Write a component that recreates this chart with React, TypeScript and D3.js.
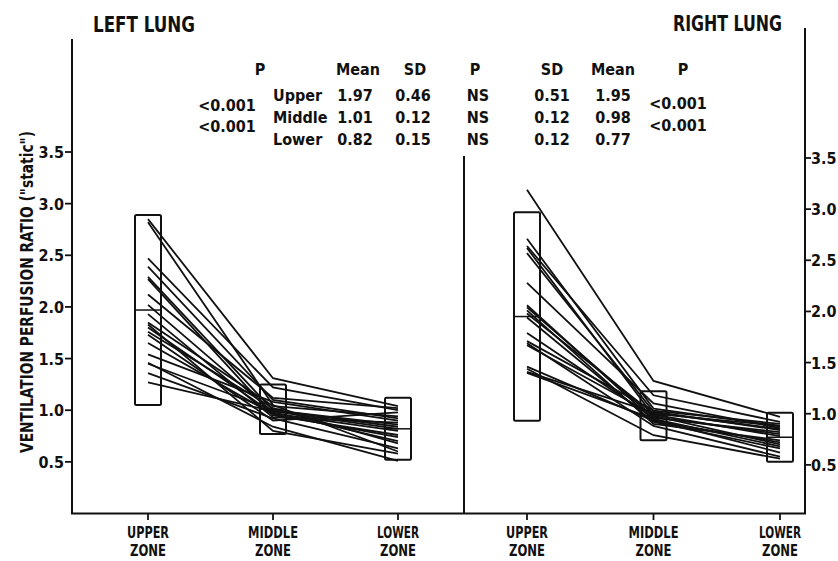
import * as d3 from "d3";

// zones on the x axis
const zones = ["UPPER", "MIDDLE", "LOWER"];
const yTicks = [0.5, 1.0, 1.5, 2.0, 2.5, 3.0, 3.5];

// left lung, one value per subject and zone
const leftUpper = [2.85, 2.82, 2.47, 2.39, 2.29, 2.27, 2.12, 2.02, 1.93, 1.85, 1.83, 1.8, 1.76, 1.73, 1.65, 1.54, 1.46, 1.45, 1.36, 1.27];
const leftMiddle = [1.31, 1.05, 1.22, 1.1, 1.0, 0.95, 1.12, 0.98, 0.93, 1.04, 0.8, 0.97, 1.02, 0.9, 0.96, 1.08, 0.84, 1.0, 0.92, 0.99];
const leftLower = [1.04, 0.6, 1.0, 0.92, 0.84, 0.76, 1.02, 0.7, 0.88, 0.94, 0.58, 0.8, 0.68, 0.98, 0.74, 0.9, 0.51, 0.86, 0.63, 0.82];

// right lung
const rightUpper = [3.19, 2.71, 2.64, 2.62, 2.57, 2.28, 2.06, 2.04, 2.01, 1.98, 1.94, 1.79, 1.71, 1.69, 1.67, 1.46, 1.44, 1.41, 1.4];
const rightMiddle = [1.32, 1.05, 1.18, 0.98, 1.02, 1.1, 0.94, 0.97, 0.9, 1.0, 0.92, 0.96, 1.03, 0.88, 0.99, 0.93, 0.79, 1.01, 0.95];
const rightLower = [0.97, 0.88, 0.92, 0.7, 0.84, 0.86, 0.62, 0.8, 0.74, 0.88, 0.66, 0.82, 0.9, 0.58, 0.78, 0.72, 0.56, 0.85, 0.68];

// summary table
const rowNames = ["Upper", "Middle", "Lower"];
const leftMean = ["1.97", "1.01", "0.82"];
const leftSD = ["0.46", "0.12", "0.15"];
const rightMean = ["1.95", "0.98", "0.77"];
const rightSD = ["0.51", "0.12", "0.12"];
const betweenP = ["NS", "NS", "NS"];
const zoneP = ["<0.001", "<0.001"];

const FONT = "'DejaVu Sans Condensed', 'Liberation Sans Narrow', sans-serif";

function Panel({ upper, middle, lower, means, sds, x, y }: any) {
  const line = d3
    .line<[string, number]>()
    .x((d) => x(d[0]))
    .y((d) => y(d[1]));
  const subjects = upper.map((u: number, i: number) => [
    ["UPPER", u],
    ["MIDDLE", middle[i]],
    ["LOWER", lower[i]],
  ]);
  const bw = 26;
  return (
    <g>
      {subjects.map((s: any, i: number) => (
        <path key={i} d={line(s) || ""} fill="none" stroke="#111" strokeWidth={1.8} />
      ))}
      {zones.map((z, i) => {
        const m = +means[i];
        const sd = +sds[i];
        return (
          <g key={z}>
            <rect
              x={x(z) - bw / 2}
              y={y(m + 2 * sd)}
              width={bw}
              height={y(m - 2 * sd) - y(m + 2 * sd)}
              fill="none"
              stroke="#111"
              strokeWidth={2}
              rx={1.5}
            />
            <line x1={x(z) - bw / 2} x2={x(z) + bw / 2} y1={y(m)} y2={y(m)} stroke="#111" strokeWidth={1.5} />
          </g>
        );
      })}
    </g>
  );
}

export default function App() {
  const xLeft = d3.scalePoint().domain(zones).range([148, 398]);
  const xRight = d3.scalePoint().domain(zones).range([527, 780]);
  const yLeft = d3.scaleLinear().domain([0, 3.5]).range([513.5, 152]);
  const yRight = d3.scaleLinear().domain([0, 3.5]).range([516, 158]);

  const zoneWidth: any = { UPPER: 42, MIDDLE: 50, LOWER: 42 };
  const tStyle = { fontFamily: FONT, fontWeight: "bold", fill: "#111" } as any;

  return (
    <svg width={838} height={561} style={{ position: "absolute", left: 0, top: 0, background: "white" }}>
      {/* titles */}
      <text x={93} y={32} fontSize={22} textLength={102} lengthAdjust="spacingAndGlyphs" style={tStyle}>
        LEFT LUNG
      </text>
      <text x={673} y={31} fontSize={22} textLength={109} lengthAdjust="spacingAndGlyphs" style={tStyle}>
        RIGHT LUNG
      </text>
      <text
        transform="translate(33,292) rotate(-90)"
        textAnchor="middle"
        fontSize={17}
        textLength={322}
        lengthAdjust="spacingAndGlyphs"
        style={tStyle}
      >
        VENTILATION PERFUSION RATIO ("static")
      </text>

      {/* axes frame */}
      <line x1={72} x2={72} y1={39} y2={514} stroke="#111" strokeWidth={2} />
      <line x1={805} x2={805} y1={28} y2={514} stroke="#111" strokeWidth={2} />
      <line x1={71} x2={806} y1={513.5} y2={513.5} stroke="#111" strokeWidth={2} />
      <line x1={464} x2={464} y1={156} y2={514} stroke="#111" strokeWidth={2} />

      {/* y ticks */}
      {yTicks.map((t) => (
        <g key={"l" + t}>
          <line x1={65} x2={72} y1={yLeft(t)} y2={yLeft(t)} stroke="#111" strokeWidth={1.8} />
          <text x={64} y={yLeft(t) + 6} fontSize={16} textAnchor="end" style={tStyle}>
            {t.toFixed(1)}
          </text>
        </g>
      ))}
      {yTicks.map((t) => (
        <g key={"r" + t}>
          <line x1={805} x2={811} y1={yRight(t)} y2={yRight(t)} stroke="#111" strokeWidth={1.8} />
          <text x={811} y={yRight(t) + 6} fontSize={16} style={tStyle}>
            {t.toFixed(1)}
          </text>
        </g>
      ))}

      {/* x ticks and zone labels */}
      {[xLeft, xRight].map((xs, k) =>
        zones.map((z) => (
          <g key={k + z}>
            <line x1={xs(z)} x2={xs(z)} y1={513} y2={520} stroke="#111" strokeWidth={1.8} />
            <text
              x={xs(z)! - zoneWidth[z] / 2}
              y={538}
              fontSize={15}
              textLength={zoneWidth[z]}
              lengthAdjust="spacingAndGlyphs"
              style={tStyle}
            >
              {z}
            </text>
            <text x={xs(z)! - 18} y={556} fontSize={15} textLength={36} lengthAdjust="spacingAndGlyphs" style={tStyle}>
              ZONE
            </text>
          </g>
        ))
      )}

      {/* summary table */}
      <g style={tStyle} fontSize={16}>
        <text x={260} y={75} textAnchor="middle">P</text>
        <text x={358} y={75} textAnchor="middle">Mean</text>
        <text x={415} y={75} textAnchor="middle">SD</text>
        {rowNames.map((r, i) => (
          <g key={r}>
            <text x={273} y={101 + i * 22}>{r}</text>
            <text x={355} y={101 + i * 22} textAnchor="middle">{leftMean[i]}</text>
            <text x={413} y={101 + i * 22} textAnchor="middle">{leftSD[i]}</text>
            <text x={478} y={101 + i * 22} textAnchor="middle">{betweenP[i]}</text>
            <text x={552} y={101 + i * 22} textAnchor="middle">{rightSD[i]}</text>
            <text x={613} y={101 + i * 22} textAnchor="middle">{rightMean[i]}</text>
          </g>
        ))}
        {zoneP.map((p, i) => (
          <g key={i}>
            <text x={227} y={111 + i * 21} textAnchor="middle">{p}</text>
            <text x={678} y={109 + i * 22} textAnchor="middle">{p}</text>
          </g>
        ))}
        <text x={475} y={75} textAnchor="middle">P</text>
        <text x={552} y={75} textAnchor="middle">SD</text>
        <text x={613} y={75} textAnchor="middle">Mean</text>
        <text x={683} y={75} textAnchor="middle">P</text>
      </g>

      <Panel upper={leftUpper} middle={leftMiddle} lower={leftLower} means={leftMean} sds={leftSD} x={xLeft} y={yLeft} />
      <Panel upper={rightUpper} middle={rightMiddle} lower={rightLower} means={rightMean} sds={rightSD} x={xRight} y={yRight} />
    </svg>
  );
}
